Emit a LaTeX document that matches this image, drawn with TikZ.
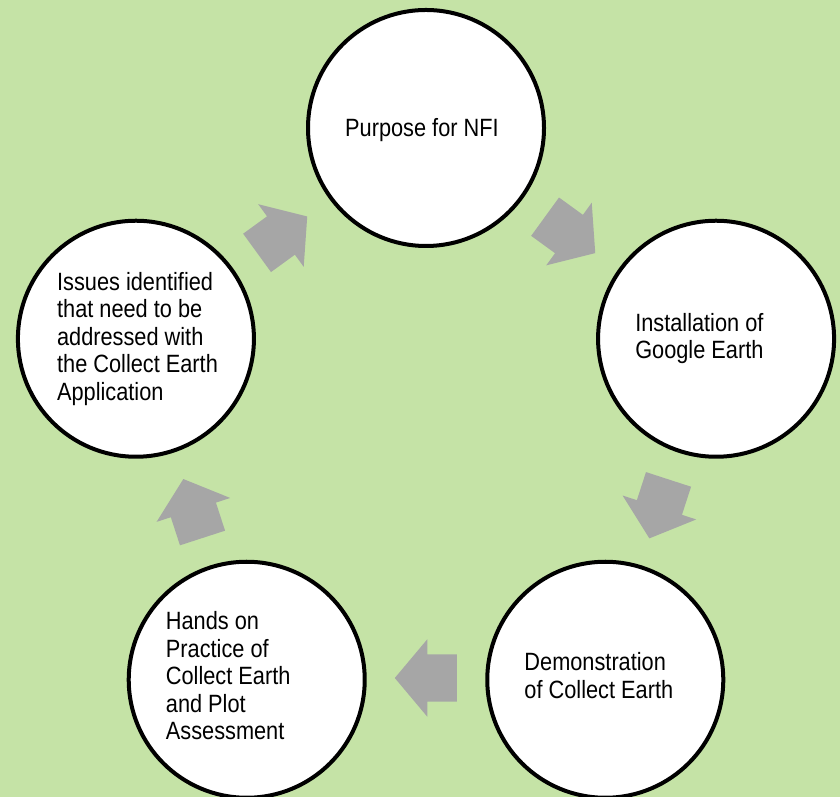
\documentclass[tikz,border=0pt]{standalone}
\usepackage{fontspec}
\setmainfont{Liberation Sans}[FakeStretch=0.87]
\usepackage{xcolor}
\usepackage{tikz}
\usetikzlibrary{shapes.arrows}
\usetikzlibrary{calc}
\definecolor{bggreen}{HTML}{C5E3A6}
\definecolor{arrowgray}{HTML}{A6A6A6}

\begin{document}
\begin{tikzpicture}[x=1pt,y=1pt,
        stage/.style={circle,draw=black,line width=4pt,fill=white,minimum size=236pt,inner sep=0pt},
        stagetext/.style={anchor=west,inner sep=0pt,align=left,font=\fontsize{25}{27.5}\selectfont},
        flow/.style={single arrow,fill=arrowgray,draw=none,minimum height=62pt,inner xsep=0pt,inner ysep=23.5pt,
            single arrow head extend=15pt,single arrow tip angle=100,anchor=tail}]
            \fill[bggreen] (0,0) rectangle (840,797);
            \useasboundingbox (0,0) rectangle (840,797);
            \coordinate (mid) at (426,364);

            \node[stage] (purpose) at ($(mid)+(90:305)$) {};
            \node[stage] (install) at ($(mid)+(18:305)$) {};
            \node[stage] (demo) at ($(mid)+(-54:305)$) {};
            \node[stage] (practice) at ($(mid)+(-126:305)$) {};
            \node[stage] (issues) at ($(mid)+(162:305)$) {};

            \node[stagetext] (purposeText) at ($(purpose.center)+(-81,-2)$) {Purpose for NFI};
            \node[stagetext] (installText) at ($(install.center)+(-81,0)$) {Installation of\\Google Earth};
            \node[stagetext] (demoText) at ($(demo.center)+(-81,4)$) {Demonstration\\of Collect Earth};
            \node[stagetext] (practiceText) at ($(practice.center)+(-81,4)$) {Hands on\\Practice of\\Collect Earth\\and Plot\\Assessment};
            \node[stagetext] (issuesText) at ($(issues.center)+(-79,0)$) {Issues identified\\that need to be\\addressed with\\the Collect Earth\\Application};

            \foreach \a/\n in {126/toPurpose,54/toInstall,-18/toDemo,-90/toPractice,-162/toIssues}
                \node[flow,rotate=\a-90] (\n) at ($(mid)+(\a:245)+(\a+90:31)$) {};
        \end{tikzpicture}
\end{document}
